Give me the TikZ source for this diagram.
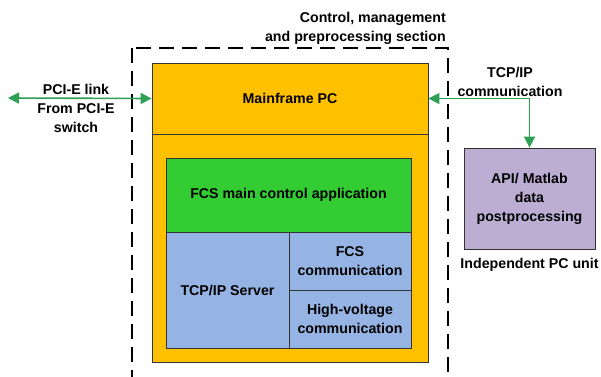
\documentclass[tikz,border=0pt]{standalone}
\usepackage{fontspec}
\setmainfont{Liberation Sans}
\usetikzlibrary{arrows.meta}

\definecolor{pcorange}{HTML}{FFC000}
\definecolor{appgreen}{HTML}{33CC33}
\definecolor{commblue}{HTML}{95B3E3}
\definecolor{apipurple}{HTML}{BCAED3}
\definecolor{linkgreen}{HTML}{2EA055}

\begin{document}
\begin{tikzpicture}[x=1pt,y=-1pt,font=\fontsize{14.2}{19}\selectfont\bfseries]

      \clip (0,0) rectangle (601,376);

      % section border
      \draw[line width=1.8pt,dash pattern=on 15pt off 8pt] (132,48) rectangle (448,420);

      \begin{scope}[every node/.style={rectangle,draw=black!80,line width=0.8pt,inner sep=0pt,align=center}]
        \node[fill=pcorange,minimum width=276pt,minimum height=299pt] (pcbox) at (290,212.5) {};
        \node[fill=pcorange,minimum width=276pt,minimum height=71pt] (mainframe) at (290,98.5) {Mainframe PC};
        \node[fill=appgreen,minimum width=245pt,minimum height=74pt] (app) at (288.5,195) {FCS main control application};
        \node[fill=commblue,minimum width=123pt,minimum height=116pt] (server) at (227.5,290) {TCP/IP Server};
        \node[fill=commblue,minimum width=122pt,minimum height=58pt] (fcscomm) at (350,261) {FCS\\communication};
        \node[fill=commblue,minimum width=122pt,minimum height=58pt] (hvcomm) at (350,319) {High-voltage\\communication};
        \node[fill=apipurple,minimum width=131pt,minimum height=101pt] (api) at (529.5,198.5) {API/ Matlab\\data\\postprocessing};
      \end{scope}

      \begin{scope}[every node/.style={inner sep=0pt}]
        \node[align=right,anchor=east] (section) at (446,28) {Control, management\\and preprocessing section};
        \node[align=center] (pcie) at (76,108.5) {PCI-E link\\From PCI-E\\switch};
        \node[align=center] (tcpip) at (510,82) {TCP/IP\\communication};
        \node (unit) at (529.5,265) {Independent PC unit};
        \coordinate (switch) at (8,98);
      \end{scope}

      \begin{scope}[every path/.style={draw=linkgreen,line width=1.6pt,{Triangle[length=11pt,width=11pt]}-{Triangle[length=11pt,width=11pt]}}]
        \path (switch) -- (mainframe.west);
        \path (mainframe.east) -| (api.north);
      \end{scope}

    \end{tikzpicture}
\end{document}
